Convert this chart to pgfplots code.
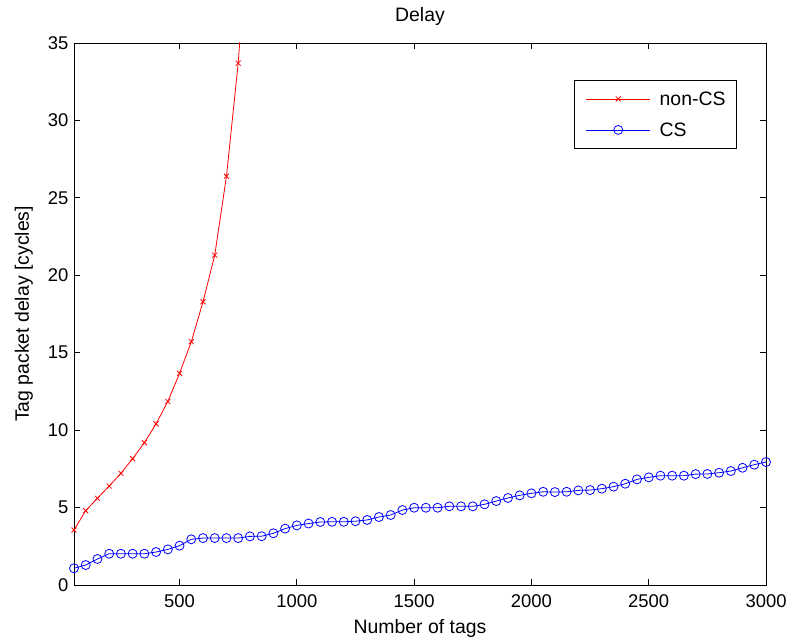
\documentclass[border=0pt]{standalone}
\usepackage{pgfplots}
\pgfplotsset{compat=1.18}
\usepackage{fontspec}
\setmainfont{Liberation Sans}
\pgfplotstableread{
x y
50 3.55
100 4.80
150 5.60
200 6.39
250 7.21
300 8.16
350 9.19
400 10.41
450 11.85
500 13.67
550 15.71
600 18.29
650 21.30
700 26.40
750 33.70
800 44.0
}\noncs
\pgfplotstableread{
x y
50 1.08
100 1.29
150 1.68
200 2.02
250 2.02
300 2.02
350 2.02
400 2.13
450 2.30
500 2.54
550 2.95
600 3.03
650 3.03
700 3.03
750 3.03
800 3.14
850 3.15
900 3.34
950 3.64
1000 3.85
1050 3.97
1100 4.07
1150 4.08
1200 4.08
1250 4.12
1300 4.20
1350 4.39
1400 4.52
1450 4.84
1500 4.99
1550 4.99
1600 4.99
1650 5.08
1700 5.08
1750 5.08
1800 5.21
1850 5.42
1900 5.62
1950 5.79
2000 5.92
2050 6.02
2100 6.00
2150 6.02
2200 6.11
2250 6.13
2300 6.22
2350 6.35
2400 6.54
2450 6.82
2500 6.95
2550 7.06
2600 7.06
2650 7.06
2700 7.16
2750 7.17
2800 7.25
2850 7.36
2900 7.57
2950 7.77
3000 7.94
}\cs
\begin{document}
\begin{tikzpicture}
\begin{axis}[
  name=ax,
  scale only axis,
  width=692bp, height=542bp,
  xmin=50, xmax=3000, ymin=0, ymax=35,
  xtick={500,1000,1500,2000,2500,3000},
  ytick={0,5,10,15,20,25,30,35},
  tick align=inside,
  major tick length=6bp,
  axis line style={line width=0.8bp},
  tick style={line width=0.8bp, black},
  /pgf/number format/assume math mode=true,
  /pgf/number format/1000 sep={},
  ticklabel style={font=\fontsize{18.5}{22}\selectfont},
  xticklabel style={yshift=-6bp},
  yticklabel style={xshift=-2bp},
  label style={font=\fontsize{19.5}{23}\selectfont},
  title style={font=\fontsize{19.5}{23}\selectfont, at={(axis description cs:0.5,1.0387)}, anchor=center},
  xlabel style={at={(axis description cs:0.5,-0.081)}, anchor=center},
  ylabel style={at={(axis description cs:-0.0723,0.5)}, anchor=center, rotate=0},
  title={Delay},
  xlabel={Number of tags},
  ylabel={Tag packet delay [cycles]},
  legend style={font=\fontsize{19.5}{23}\selectfont, at={(0.958,0.9317)}, anchor=north east, draw=black, line width=0.8bp, inner xsep=11bp, inner ysep=5bp, row sep=4bp, column sep=9bp, nodes={inner xsep=0bp, inner ysep=0bp, text height=20bp, text depth=7bp}},
  legend cell align=left,
  legend image code/.code={\draw[mark repeat=2,mark phase=2,#1] plot coordinates {(0bp,0bp)(32bp,0bp)(64bp,0bp)};},
  clip=true,
]
\addplot[color=red, line width=0.8bp, mark=x, mark size=3.5bp, mark options={line width=0.8bp}] table[x=x,y=y] {\noncs};
\addlegendentry{non-CS}
\addplot[color=blue, line width=0.8bp, mark=o, mark size=4.5bp, mark options={line width=0.8bp}] table[x=x,y=y] {\cs};
\addlegendentry{CS}
\end{axis}
\path ([xshift=-74bp,yshift=-59bp]ax.south west) rectangle ([xshift=27bp,yshift=43bp]ax.north east);
\end{tikzpicture}
\end{document}
